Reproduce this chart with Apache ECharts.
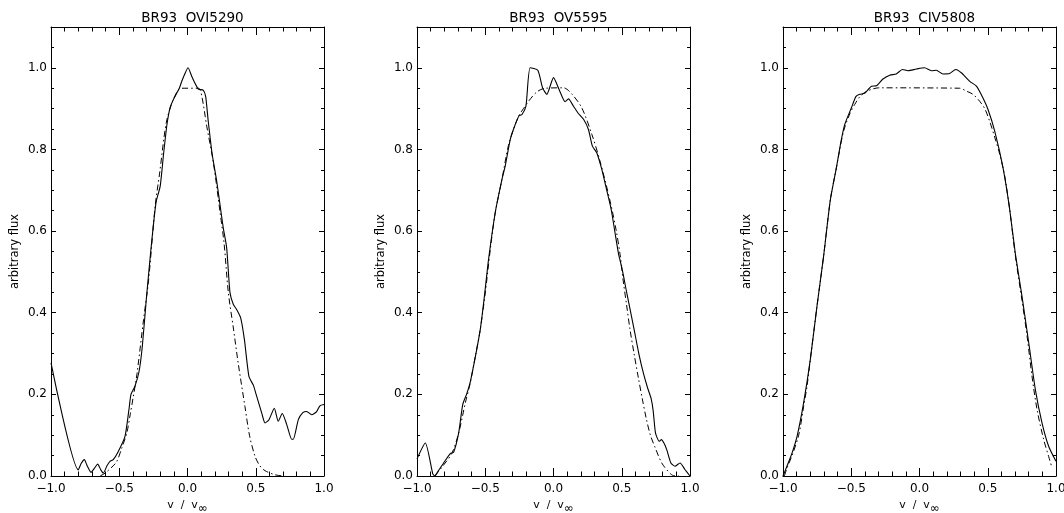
<!DOCTYPE html>
<html>
<head>
<meta charset="utf-8">
<script src="https://cdn.jsdelivr.net/npm/echarts@6/dist/echarts.min.js"></script>
<style>html,body{margin:0;padding:0;background:#fff}#c{width:1064px;height:513px}</style>
</head>
<body>
<div id="c"></div>
<script>
// ---- data ----
const panelTitles = ['BR93  OVI5290', 'BR93  OV5595', 'BR93  CIV5808'];
const xTicks = [-1.0, -0.5, 0.0, 0.5, 1.0];
const yTicks = [0.0, 0.2, 0.4, 0.6, 0.8, 1.0];

const oviObserved = [[-1.0,0.277],[-0.8,0.015],[-0.78,0.03],[-0.756,0.04],[-0.735,0.025],[-0.707,0.009],[-0.68,0.02],[-0.658,0.029],[-0.635,0.015],[-0.617,0.007],[-0.59,0.025],[-0.568,0.036],[-0.544,0.04],[-0.507,0.06],[-0.458,0.097],[-0.43,0.16],[-0.414,0.2],[-0.385,0.22],[-0.355,0.256],[-0.331,0.318],[-0.3,0.44],[-0.268,0.555],[-0.245,0.63],[-0.229,0.673],[-0.2,0.71],[-0.175,0.79],[-0.151,0.86],[-0.128,0.902],[-0.104,0.922],[-0.06,0.95],[-0.042,0.967],[-0.02,0.985],[0.004,1.0],[0.03,0.98],[0.055,0.962],[0.079,0.948],[0.116,0.945],[0.133,0.93],[0.152,0.869],[0.18,0.79],[0.214,0.722],[0.24,0.66],[0.262,0.608],[0.287,0.559],[0.311,0.45],[0.336,0.42],[0.36,0.408],[0.39,0.387],[0.417,0.334],[0.45,0.244],[0.483,0.222],[0.5,0.203],[0.544,0.154],[0.568,0.13],[0.597,0.138],[0.636,0.166],[0.665,0.134],[0.694,0.153],[0.727,0.126],[0.763,0.09],[0.775,0.09],[0.812,0.138],[0.845,0.155],[0.873,0.158],[0.91,0.15],[0.946,0.158],[0.97,0.172],[1.0,0.175]];
const oviModel = [[-0.64,0.0],[-0.604,0.007],[-0.56,0.02],[-0.519,0.035],[-0.48,0.07],[-0.445,0.105],[-0.42,0.15],[-0.397,0.195],[-0.371,0.248],[-0.322,0.383],[-0.285,0.48],[-0.237,0.661],[-0.205,0.74],[-0.156,0.865],[-0.115,0.913],[-0.07,0.945],[-0.05,0.95],[0.08,0.95],[0.105,0.93],[0.141,0.857],[0.19,0.767],[0.239,0.645],[0.268,0.57],[0.299,0.45],[0.337,0.36],[0.372,0.275],[0.421,0.17],[0.454,0.1],[0.495,0.048],[0.53,0.025],[0.568,0.013],[0.641,0.003],[0.7,0.0]];

const ovObserved = [[-1.0,0.042],[-0.939,0.081],[-0.885,0.006],[-0.87,0.0],[-0.845,0.012],[-0.805,0.032],[-0.756,0.055],[-0.732,0.058],[-0.695,0.105],[-0.665,0.175],[-0.634,0.203],[-0.61,0.23],[-0.573,0.291],[-0.537,0.358],[-0.508,0.435],[-0.476,0.53],[-0.427,0.645],[-0.378,0.726],[-0.354,0.759],[-0.317,0.824],[-0.285,0.857],[-0.251,0.883],[-0.232,0.885],[-0.202,0.906],[-0.171,1.0],[-0.115,0.994],[-0.08,0.951],[-0.049,0.935],[0.0,0.976],[0.041,0.947],[0.085,0.917],[0.11,0.924],[0.146,0.906],[0.178,0.89],[0.22,0.874],[0.256,0.849],[0.285,0.808],[0.317,0.792],[0.354,0.751],[0.383,0.71],[0.415,0.665],[0.427,0.645],[0.456,0.585],[0.476,0.545],[0.49,0.525],[0.51,0.495],[0.53,0.46],[0.56,0.41],[0.59,0.36],[0.625,0.3],[0.66,0.25],[0.69,0.215],[0.715,0.19],[0.73,0.16],[0.745,0.11],[0.755,0.097],[0.775,0.085],[0.79,0.089],[0.81,0.08],[0.83,0.064],[0.86,0.032],[0.89,0.024],[0.927,0.032],[0.963,0.016],[1.0,0.0]];
const ovModel = [[-0.87,0.0],[-0.812,0.024],[-0.744,0.056],[-0.695,0.105],[-0.646,0.179],[-0.61,0.228],[-0.573,0.293],[-0.537,0.358],[-0.5,0.448],[-0.463,0.555],[-0.427,0.645],[-0.378,0.726],[-0.33,0.81],[-0.285,0.857],[-0.25,0.885],[-0.22,0.9],[-0.183,0.918],[-0.122,0.941],[-0.06,0.95],[0.073,0.951],[0.134,0.936],[0.207,0.902],[0.281,0.837],[0.341,0.771],[0.415,0.673],[0.46,0.6],[0.488,0.542],[0.51,0.48],[0.535,0.42],[0.56,0.36],[0.59,0.3],[0.622,0.24],[0.65,0.19],[0.68,0.14],[0.71,0.1],[0.744,0.07],[0.793,0.032],[0.841,0.011],[0.878,0.001],[0.92,0.0]];

const civObserved = [[-1.0,0.0],[-0.971,0.024],[-0.934,0.056],[-0.897,0.097],[-0.849,0.179],[-0.8,0.285],[-0.751,0.416],[-0.702,0.54],[-0.653,0.677],[-0.609,0.755],[-0.575,0.82],[-0.548,0.861],[-0.499,0.902],[-0.465,0.93],[-0.438,0.935],[-0.4,0.938],[-0.352,0.955],[-0.316,0.956],[-0.27,0.972],[-0.218,0.982],[-0.17,0.985],[-0.125,0.996],[-0.084,0.993],[-0.023,0.997],[0.038,1.0],[0.087,0.993],[0.123,0.994],[0.172,0.985],[0.221,0.986],[0.265,0.996],[0.306,0.988],[0.368,0.967],[0.417,0.955],[0.465,0.926],[0.502,0.898],[0.551,0.845],[0.612,0.755],[0.66,0.655],[0.702,0.545],[0.751,0.44],[0.8,0.327],[0.849,0.211],[0.897,0.131],[0.946,0.073],[1.0,0.036]];
const civModel = [[-0.99,0.0],[-0.97,0.02],[-0.934,0.05],[-0.885,0.1],[-0.849,0.17],[-0.824,0.22],[-0.8,0.285],[-0.751,0.416],[-0.702,0.54],[-0.653,0.677],[-0.609,0.755],[-0.556,0.845],[-0.507,0.89],[-0.475,0.91],[-0.44,0.928],[-0.4,0.94],[-0.352,0.947],[-0.3,0.951],[0.294,0.95],[0.343,0.943],[0.392,0.935],[0.441,0.918],[0.478,0.9],[0.514,0.869],[0.551,0.83],[0.588,0.788],[0.624,0.735],[0.66,0.655],[0.702,0.54],[0.751,0.43],[0.788,0.343],[0.824,0.245],[0.861,0.163],[0.91,0.089],[0.946,0.048],[0.971,0.02]];

const observedSets = [oviObserved, ovObserved, civObserved];
const modelSets = [oviModel, ovModel, civModel];

// ---- layout / style ----
const FONT = 'DejaVu Sans';
const gridLefts = [51, 417, 783];
const GRID_W = 273, GRID_TOP = 27, GRID_H = 449;
const XMIN = xTicks[0], XMAX = xTicks[xTicks.length - 1];
const YMIN = yTicks[0], YMAX = 1.1;

const fmtNum = v => v.toFixed(1).replace('-', '\u2212');

const grids = [], xAxes = [], yAxes = [], series = [], titles = [];
gridLefts.forEach((left, i) => {
  grids.push({ left: left, top: GRID_TOP, width: GRID_W, height: GRID_H, containLabel: false, outerBoundsMode: 'none' });
  titles.push({
    text: panelTitles[i], left: left + GRID_W / 2, top: 6, textAlign: 'center',
    textStyle: { fontFamily: FONT, fontSize: 13.5, fontWeight: 'normal', color: '#000' }
  });
  const xBase = {
    gridIndex: i, type: 'value', min: XMIN, max: XMAX, interval: 0.5,
    axisLine: { show: true, onZero: false, lineStyle: { color: '#000', width: 1 } },
    axisTick: { show: true, inside: true, length: 8, lineStyle: { color: '#000' } },
    minorTick: { show: true, splitNumber: 5, length: 4.5, lineStyle: { color: '#000' } },
    splitLine: { show: false }
  };
  xAxes.push(Object.assign({}, xBase, {
    position: 'bottom',
    axisLabel: { show: true, margin: 7, color: '#000', fontFamily: FONT, fontSize: 12, formatter: fmtNum },
    name: '{a|v  /  v}{s|\u221e}', nameLocation: 'middle', nameGap: 19,
    nameTextStyle: {
      color: '#000', fontFamily: FONT, fontSize: 11,
      rich: {
        a: { fontFamily: FONT, fontSize: 11, color: '#000' },
        s: { fontFamily: FONT, fontSize: 12, color: '#000', padding: [7, 0, 0, 0] }
      }
    }
  }));
  xAxes.push(Object.assign({}, xBase, { position: 'top', axisLabel: { show: false } }));

  const yMajor = {
    gridIndex: i, type: 'value', min: YMIN, max: YMAX, interval: 0.2,
    axisLine: { show: true, onZero: false, lineStyle: { color: '#000', width: 1 } },
    axisTick: { show: true, inside: true, length: 5, lineStyle: { color: '#000' } },
    minorTick: { show: false }, splitLine: { show: false }
  };
  const yMinor = {
    gridIndex: i, type: 'value', min: YMIN, max: YMAX, interval: 0.05,
    axisLine: { show: false, onZero: false },
    axisTick: { show: true, inside: true, length: 3, lineStyle: { color: '#000' } },
    axisLabel: { show: false }, splitLine: { show: false }
  };
  yAxes.push(Object.assign({}, yMajor, {
    position: 'left',
    axisLabel: {
      show: true, margin: 4, color: '#000', fontFamily: FONT, fontSize: 12,
      formatter: v => (v > 1.05 ? '' : fmtNum(v))
    },
    name: 'arbitrary flux', nameLocation: 'middle', nameGap: 30, nameRotate: 90,
    nameTextStyle: { color: '#000', fontFamily: FONT, fontSize: 11.5 }
  }));
  yAxes.push(Object.assign({}, yMajor, { position: 'right', axisLabel: { show: false } }));
  yAxes.push(Object.assign({}, yMinor, { position: 'left' }));
  yAxes.push(Object.assign({}, yMinor, { position: 'right' }));

  series.push({
    type: 'line', xAxisIndex: i * 2, yAxisIndex: i * 4, data: observedSets[i],
    showSymbol: false, symbol: 'none', smooth: 0.2, animation: false,
    lineStyle: { color: '#000', width: 1.1 }
  });
  series.push({
    type: 'line', xAxisIndex: i * 2, yAxisIndex: i * 4, data: modelSets[i],
    showSymbol: false, symbol: 'none', smooth: 0.3, animation: false,
    lineStyle: { color: '#000', width: 1, type: [6, 3, 1.5, 3] }
  });
});

const chart = echarts.init(document.getElementById('c'), null, { renderer: 'canvas' });
chart.setOption({
  backgroundColor: '#fff', animation: false,
  title: titles, grid: grids, xAxis: xAxes, yAxis: yAxes, series: series
});
</script>
</body>
</html>
